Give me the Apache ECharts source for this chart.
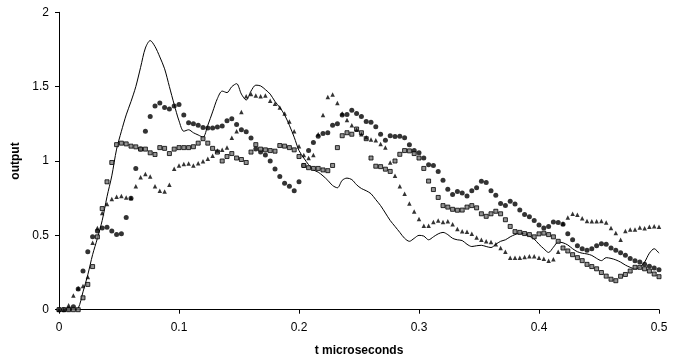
<!DOCTYPE html>
<html>
<head>
<meta charset="utf-8">
<script src="https://cdn.jsdelivr.net/npm/echarts@6/dist/echarts.min.js"></script>
<style>
  html, body { margin: 0; padding: 0; background: #fff; }
  #chart { width: 683px; height: 358px; }
</style>
</head>
<body>
<div id="chart"></div>
<script>
// Sample spacing (microseconds) shared by all four traces
const tStep = 0.004;

// Response traces, one value per sample from t = 0 to t = 0.5
const solidTrace = [
  0, 0, 0, 0, 0.01, 0.12, 0.235, 0.37, 0.48, 0.60,
  0.76, 0.90, 1.08, 1.20, 1.31, 1.40, 1.50, 1.63, 1.76, 1.81,
  1.77, 1.70, 1.62, 1.50, 1.38, 1.27, 1.20, 1.21, 1.19, 1.175,
  1.16, 1.24, 1.33, 1.42, 1.47, 1.46, 1.50, 1.52, 1.45, 1.41,
  1.47, 1.51, 1.505, 1.48, 1.45, 1.40, 1.36, 1.31, 1.24, 1.16,
  1.07, 1.02, 0.975, 0.94, 0.925, 0.90, 0.87, 0.835, 0.82, 0.87,
  0.885, 0.875, 0.84, 0.815, 0.80, 0.78, 0.74, 0.70, 0.65, 0.60,
  0.56, 0.52, 0.48, 0.46, 0.48, 0.50, 0.495, 0.47, 0.49, 0.51,
  0.52, 0.505, 0.48, 0.47, 0.465, 0.44, 0.425, 0.43, 0.433, 0.425,
  0.418, 0.44, 0.46, 0.47, 0.49, 0.505, 0.515, 0.51, 0.495, 0.475,
  0.44, 0.41, 0.385, 0.42, 0.455, 0.45, 0.435, 0.41, 0.39, 0.38,
  0.375, 0.365, 0.345, 0.33, 0.35, 0.345, 0.335, 0.32, 0.30, 0.285,
  0.275, 0.285, 0.32, 0.38, 0.41, 0.38
];

const circleTrace = [
  0, 0, 0.005, 0.02, 0.14, 0.26, 0.39, 0.49, 0.53, 0.55,
  0.555, 0.53, 0.505, 0.51, 0.62, 0.75, 0.95, 1.08, 1.20, 1.30,
  1.37, 1.39, 1.36, 1.35, 1.37, 1.38, 1.31, 1.257, 1.25, 1.24,
  1.225, 1.222, 1.222, 1.228, 1.235, 1.27, 1.284, 1.246, 1.21, 1.196,
  1.155, 1.08, 1.06, 1.04, 1.00, 0.947, 0.895, 0.85, 0.83, 0.80,
  0.86, 0.97, 1.07, 1.125, 1.167, 1.185, 1.19, 1.24, 1.25, 1.31,
  1.313, 1.342, 1.32, 1.30, 1.265, 1.26, 1.23, 1.18, 1.14, 1.17,
  1.165, 1.167, 1.156, 1.11, 1.07, 1.055, 1.02, 0.975, 0.97, 0.93,
  0.87, 0.81, 0.775, 0.795, 0.785, 0.765, 0.80, 0.82, 0.864, 0.855,
  0.80, 0.77, 0.715, 0.70, 0.73, 0.71, 0.67, 0.64, 0.625, 0.60,
  0.57, 0.55, 0.56, 0.59, 0.586, 0.575, 0.51, 0.47, 0.43, 0.41,
  0.40, 0.41, 0.43, 0.444, 0.44, 0.415, 0.40, 0.383, 0.367, 0.345,
  0.33, 0.32, 0.305, 0.293, 0.28, 0.268
];

const squareTrace = [
  0, 0, 0, 0, 0, 0.08, 0.17, 0.29, 0.49, 0.68,
  0.86, 0.99, 1.11, 1.12, 1.115, 1.10, 1.095, 1.08, 1.08, 1.055,
  1.044, 1.09, 1.085, 1.05, 1.08, 1.09, 1.09, 1.09, 1.096, 1.12,
  1.15, 1.12, 1.085, 1.06, 1.00, 1.03, 1.05, 1.02, 1.01, 0.99,
  1.06, 1.11, 1.08, 1.075, 1.07, 1.066, 1.104, 1.10, 1.09, 1.075,
  1.03, 0.97, 0.955, 0.95, 0.95, 0.94, 0.935, 0.97, 1.09, 1.17,
  1.19, 1.18, 1.215, 1.19, 1.15, 1.02, 0.965, 0.962, 0.945, 0.93,
  1.00, 1.045, 1.07, 1.068, 1.05, 1.02, 0.95, 0.865, 0.808, 0.755,
  0.70, 0.69, 0.675, 0.669, 0.67, 0.69, 0.70, 0.685, 0.645, 0.628,
  0.645, 0.662, 0.645, 0.605, 0.56, 0.525, 0.52, 0.512, 0.505, 0.49,
  0.51, 0.515, 0.505, 0.49, 0.46, 0.415, 0.395, 0.37, 0.35, 0.33,
  0.305, 0.29, 0.275, 0.25, 0.226, 0.205, 0.195, 0.225, 0.237, 0.26,
  0.285, 0.285, 0.275, 0.26, 0.24, 0.222
];

const triangleTrace = [
  0, 0, 0.03, 0.095, 0.145, 0.16, 0.22, 0.45, 0.55, 0.65,
  0.71, 0.745, 0.76, 0.765, 0.755, 0.752, 0.83, 0.89, 0.912, 0.895,
  0.83, 0.80, 0.795, 0.84, 0.948, 0.97, 0.98, 0.983, 0.97, 0.985,
  0.999, 1.015, 1.035, 1.07, 1.075, 1.09, 1.156, 1.20, 1.33, 1.436,
  1.45, 1.44, 1.436, 1.44, 1.405, 1.385, 1.36, 1.32, 1.265, 1.20,
  1.10, 1.04, 1.02, 1.04, 1.18, 1.31, 1.43, 1.448, 1.39, 1.32,
  1.275, 1.24, 1.21, 1.18, 1.16, 1.145, 1.14, 1.115, 1.09, 0.99,
  0.90, 0.83, 0.78, 0.715, 0.66, 0.61, 0.565, 0.565, 0.59, 0.60,
  0.59, 0.595, 0.575, 0.543, 0.527, 0.525, 0.51, 0.485, 0.47, 0.46,
  0.455, 0.44, 0.415, 0.39, 0.35, 0.35, 0.35, 0.355, 0.36, 0.36,
  0.35, 0.342, 0.33, 0.34, 0.39, 0.58, 0.62, 0.645, 0.638, 0.615,
  0.597, 0.595, 0.595, 0.597, 0.586, 0.55, 0.515, 0.47, 0.53, 0.54,
  0.54, 0.552, 0.547, 0.557, 0.562, 0.557
];

// Axis tick values
const xTicks = [0, 0.1, 0.2, 0.3, 0.4, 0.5];
const yTicks = [0, 0.5, 1, 1.5, 2];

function withTime(values) {
  return values.map((v, i) => [+(i * tStep).toFixed(4), v]);
}

const font = '"Liberation Sans", Arial, sans-serif';
const chart = echarts.init(document.getElementById('chart'), null, { renderer: 'canvas' });

chart.setOption({
  animation: false,
  backgroundColor: '#fff',
  grid: {
    left: 59, right: 24, top: 12.3, bottom: 48.3,
    containLabel: false,
    outerBoundsMode: 'none'
  },
  xAxis: {
    type: 'value',
    min: xTicks[0],
    max: xTicks[xTicks.length - 1],
    interval: 0.1,
    name: 't microseconds',
    nameLocation: 'middle',
    nameGap: 34.5,
    nameTextStyle: { fontFamily: font, fontSize: 12, fontWeight: 'bold', color: '#000' },
    axisLine: { lineStyle: { color: '#000', width: 1 } },
    axisTick: { show: true, inside: false, length: 4, lineStyle: { color: '#000' } },
    axisLabel: { fontFamily: font, fontSize: 12, color: '#000', margin: 12 },
    splitLine: { show: false }
  },
  yAxis: {
    type: 'value',
    min: yTicks[0],
    max: yTicks[yTicks.length - 1],
    interval: 0.5,
    name: 'output',
    nameLocation: 'middle',
    nameRotate: 90,
    nameGap: 32,
    nameTextStyle: { fontFamily: font, fontSize: 12, fontWeight: 'bold', color: '#000' },
    axisLine: { show: true, lineStyle: { color: '#000', width: 1 } },
    axisTick: { show: true, inside: false, length: 4, lineStyle: { color: '#000' } },
    axisLabel: { fontFamily: font, fontSize: 12, color: '#000', margin: 10 },
    splitLine: { show: false }
  },
  series: [
    {
      name: 'solid',
      type: 'line',
      data: withTime(solidTrace),
      showSymbol: false,
      symbol: 'none',
      smooth: 0.3,
      lineStyle: { color: '#000', width: 1 },
      z: 2
    },
    {
      name: 'circles',
      type: 'scatter',
      data: withTime(circleTrace),
      symbol: 'circle',
      symbolSize: 5,
      itemStyle: { color: '#000' },
      z: 3
    },
    {
      name: 'squares',
      type: 'scatter',
      data: withTime(squareTrace),
      symbol: 'rect',
      symbolSize: 4,
      itemStyle: { color: '#777', borderColor: '#000', borderWidth: 1 },
      z: 3
    },
    {
      name: 'triangles',
      type: 'scatter',
      data: withTime(triangleTrace),
      symbol: 'triangle',
      symbolSize: 4.5,
      itemStyle: { color: '#000' },
      z: 3
    }
  ]
});
</script>
</body>
</html>
